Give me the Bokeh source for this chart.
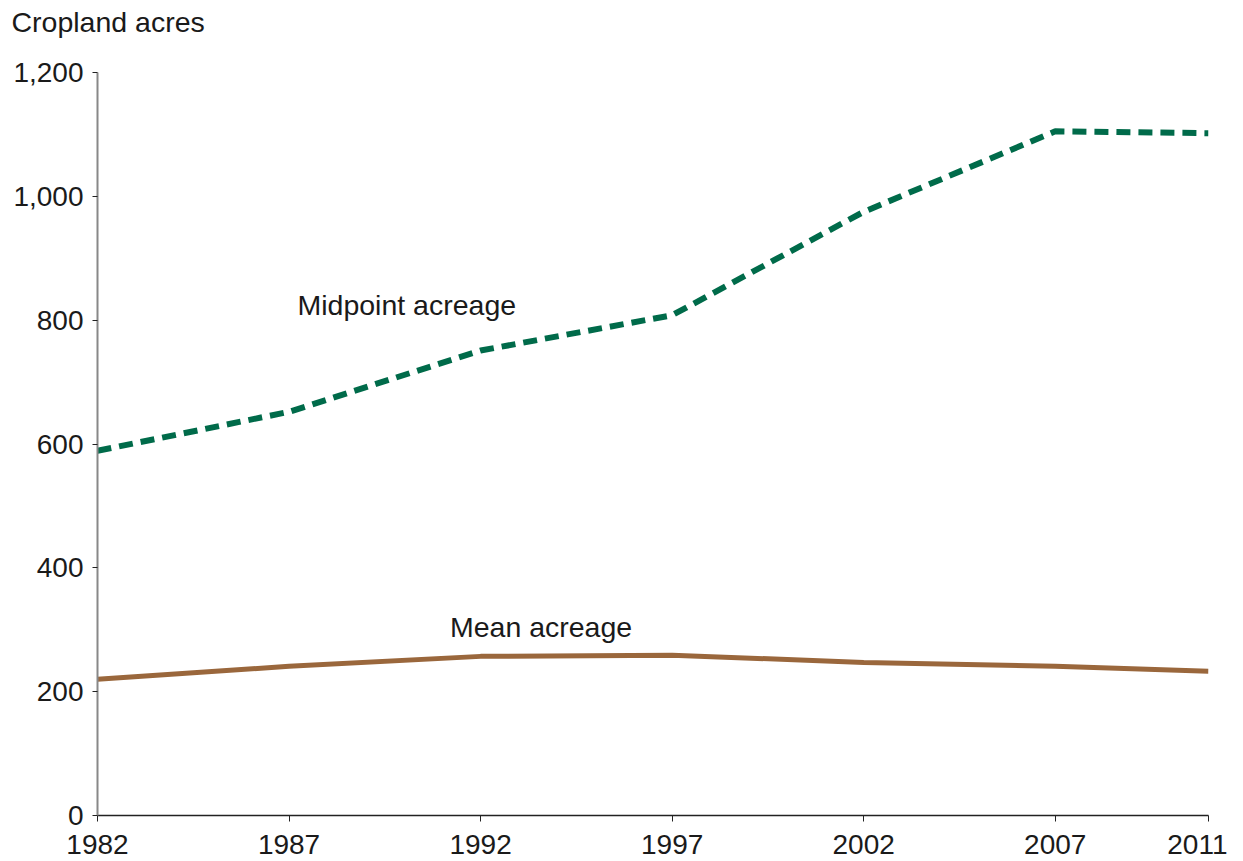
from bokeh.plotting import figure
from bokeh.models import NumeralTickFormatter, FixedTicker, Range1d, Title
from bokeh.core.properties import value
from bokeh.embed import file_html
from bokeh.resources import INLINE

years = [1982, 1987, 1992, 1997, 2002, 2007, 2011]
midpoint = [589, 652, 751, 808, 975, 1105, 1102]
mean = [220, 241, 257, 259, 247, 241, 233]
x_ticks = [1982, 1987, 1992, 1997, 2002, 2007, 2011]
y_ticks = [0, 200, 400, 600, 800, 1000, 1200]
unit_title = "Cropland acres"

FONT = "Liberation Sans"
FS = "28px"
TXT = "#1a1a1a"

p = figure(width=1227, height=861, output_backend="svg", toolbar_location=None,
           x_range=Range1d(1982, 2011), y_range=Range1d(0, 1200),
           min_border_left=97, min_border_right=19, min_border_top=72, min_border_bottom=46)
p.outline_line_color = None
p.xgrid.visible = False
p.ygrid.visible = False

p.title.text = unit_title
p.title.text_font = FONT
p.title.text_font_size = "28.5px"
p.title.text_font_style = "normal"
p.title.text_color = TXT
p.title.align = "left"
p.title.offset = -86
p.title.standoff = 2

# empty spacer between the unit title and the plot frame
p.add_layout(Title(text=" ", text_font_size="28.5px", standoff=0), "above")

p.line(years, midpoint, line_color="#006B4A", line_width=6, line_dash="14 8")
p.line(years, mean, line_color="#9A673C", line_width=5)

p.text(x=[1987.22], y=[824], text=["Midpoint acreage"], text_font=value(FONT),
       text_font_size="28.5px", text_baseline="middle", text_align="left", text_color=TXT)
p.text(x=[1991.2], y=[304], text=["Mean acreage"], text_font=value(FONT),
       text_font_size="28.5px", text_baseline="middle", text_align="left", text_color=TXT)

xa = p.xaxis[0]
xa.ticker = FixedTicker(ticks=x_ticks)
xa.axis_line_color = "#222222"
xa.axis_line_width = 1.5
xa.major_tick_out = 6
xa.major_tick_in = 0
xa.minor_tick_out = 0
xa.minor_tick_in = 0
xa.major_tick_line_color = "#222222"
xa.major_label_text_font = FONT
xa.major_label_text_font_size = FS
xa.major_label_text_color = TXT
xa.major_label_standoff = 13

ya = p.yaxis[0]
ya.ticker = FixedTicker(ticks=y_ticks)
ya.formatter = NumeralTickFormatter(format="0,0")
ya.axis_line_color = "#888888"
ya.axis_line_width = 2
ya.major_tick_out = 5
ya.major_tick_in = 0
ya.minor_tick_out = 0
ya.minor_tick_in = 0
ya.major_tick_line_color = "#222222"
ya.major_label_text_font = FONT
ya.major_label_text_font_size = FS
ya.major_label_text_color = TXT
ya.major_label_standoff = 9

open("out.html", "w").write(file_html(p, INLINE))
